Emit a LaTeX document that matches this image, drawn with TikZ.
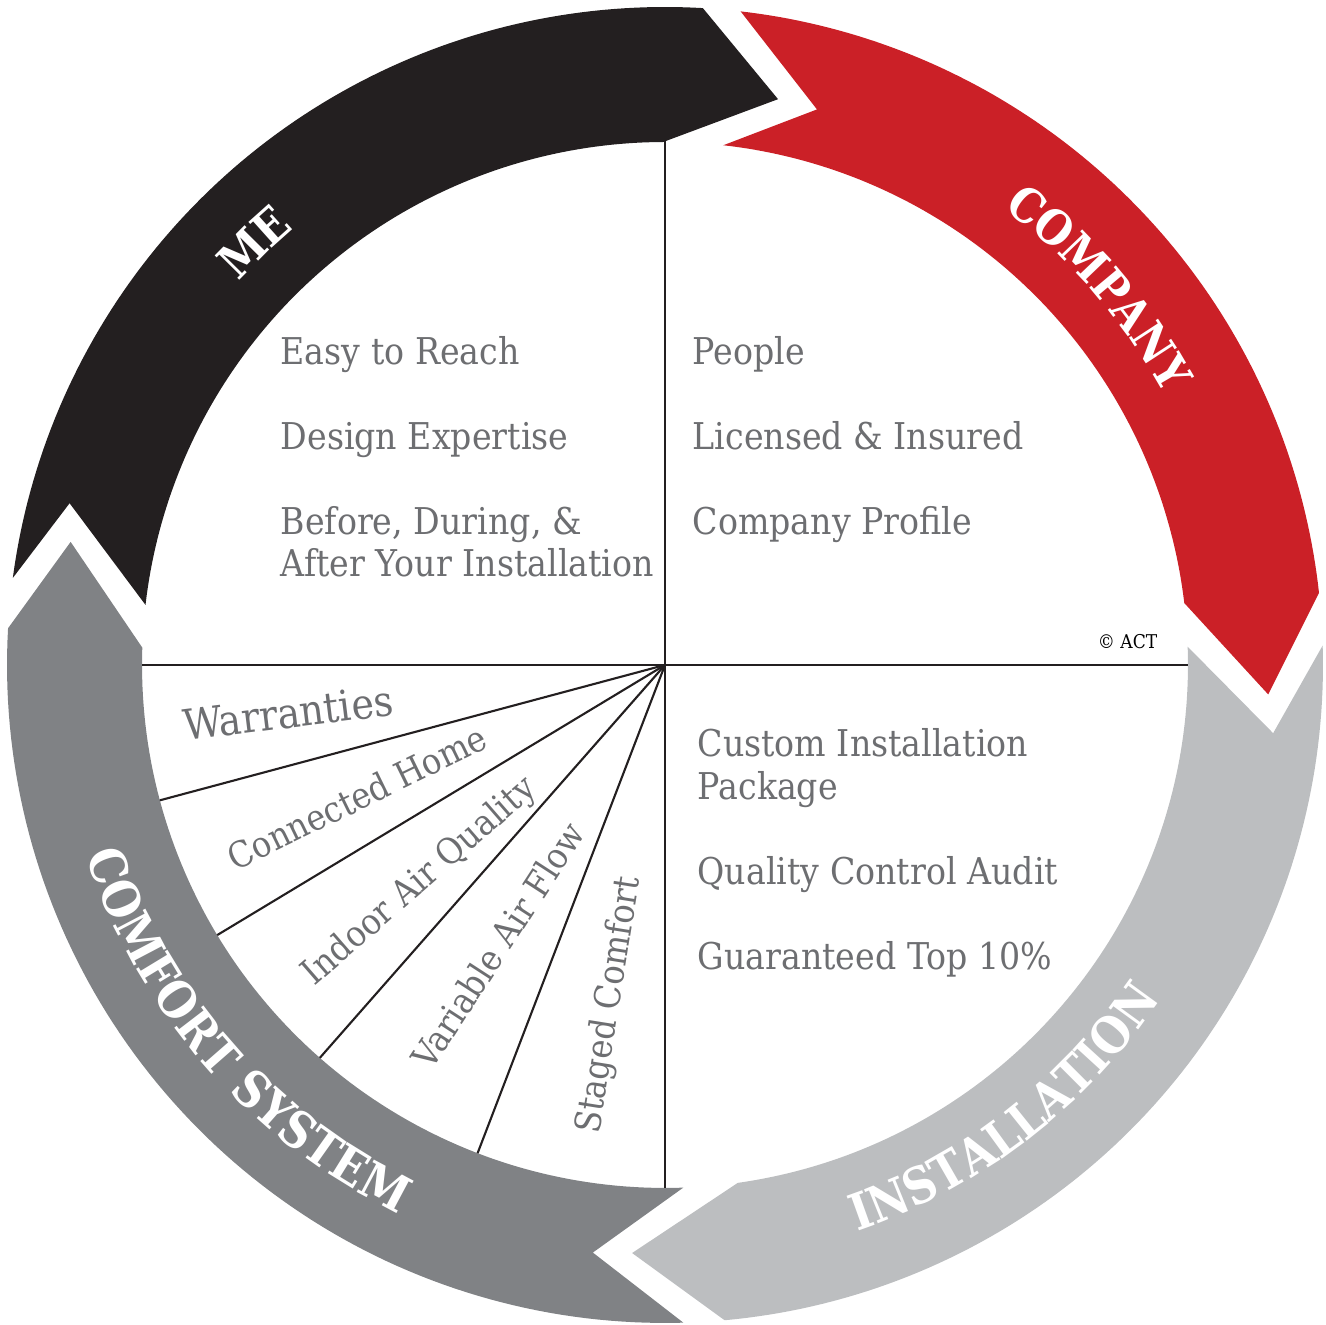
\documentclass[tikz,border=0pt]{standalone}
\usepackage{fontspec}
\usetikzlibrary{decorations.text}
\newfontfamily\slab{DejaVu Serif}[FakeStretch=0.9]
\newfontfamily\slabb{DejaVu Serif}[FakeStretch=0.88]
\definecolor{cblack}{HTML}{231F20}
\definecolor{cred}{HTML}{CB2027}
\definecolor{clight}{HTML}{BCBEC0}
\definecolor{cdark}{HTML}{808285}
\definecolor{ctext}{HTML}{6D6E71}
\newcommand\arrowfont{\slabb\bfseries\fontsize{13.5}{14}\selectfont}
\newcommand\arrowfontb{\slabb\bfseries\fontsize{14.3}{15}\selectfont}
\begin{document}
\begin{tikzpicture}[x=0.01cm,y=0.01cm,
  mtext/.style={anchor=base west,inner sep=0pt,font=\slab\fontsize{10.5}{12}\selectfont,text=ctext},
  ftext/.style={anchor=center,inner sep=0pt,font=\slab\fontsize{10.2}{12}\selectfont,text=ctext},
  divline/.style={draw=cblack,line width=0.6pt},
  arrowlabel/.style={decorate,decoration={text along path,text align=center,text color=white}}
]
\useasboundingbox (0,0) rectangle (1326,1325);
\begin{scope}[shift={(665,660)}]
  % arrows
  \fill[cblack] (172.4:658) -- (164.8:617) -- (173.4:523)
     -- plot[domain=173.4:90.2,samples=90] (\x:523)
     -- (78.7:577) -- (86.7:658)
     -- plot[domain=86.7:172.4,samples=90] (\x:658) -- cycle;
  \fill[cred] (83.4:658) -- (74.7:576) -- (83.6:523)
     -- plot[domain=83.6:6.8,samples=90] (\x:523)
     -- (-2.8:604) -- (6.3:658)
     -- plot[domain=6.3:83.4,samples=90] (\x:658) -- cycle;
  \fill[clight] (2:523) -- (-6.4:612) -- (1.7:658)
     -- plot[domain=1.7:-84.8,samples=90] (\x:658)
     -- (-93.2:589) -- (-82:523)
     -- plot[domain=-82:2,samples=90] (\x:523) -- cycle;
  \fill[cdark] (-88:523) -- (-97:592) -- (-88.4:658)
     -- plot[domain=-88.4:-183.2,samples=90] (\x:658)
     -- (-191.7:607) -- (-181.9:523)
     -- plot[domain=-181.9:-88,samples=90] (\x:523) -- cycle;
  % divider lines
  \coordinate (O) at (0,0);
  \coordinate (vt) at (90:525);
  \coordinate (vb) at (-90:523);
  \coordinate (hl) at (180:523);
  \coordinate (hr) at (0:523);
  \coordinate (f1) at (195.0:523);
  \coordinate (f2) at (211.1:523);
  \coordinate (f3) at (228.7:523);
  \coordinate (f4) at (249.0:523);
  \draw[divline] (vt) -- (vb);
  \draw[divline] (hl) -- (hr);
  \draw[divline] (O) -- (f1);
  \draw[divline] (O) -- (f2);
  \draw[divline] (O) -- (f3);
  \draw[divline] (O) -- (f4);
  % arrow labels
  \path[arrowlabel,decoration={text={|\arrowfont|ME}}] plot[domain=170:98.4,samples=60] (\x:573);
  \path[arrowlabel,decoration={text={|\arrowfont|COMPANY}}] plot[domain=80:2,samples=60] (\x:568);
  \path[arrowlabel,decoration={text={|\arrowfontb|INSTALLATION}}] plot[domain=-90:-15.2,samples=60] (\x:598);
  \path[arrowlabel,decoration={text={|\arrowfontb|COMFORT SYSTEM}}] plot[domain=185:257.3,samples=60] (\x:610);
\end{scope}
% quadrant texts
\node[mtext] (t1) at (280,960) {Easy to Reach};
\node[mtext] (t2) at (280,875) {Design Expertise};
\node[mtext] (t3) at (280,790) {Before, During, \&};
\node[mtext] (t4) at (280,748) {After Your Installation};
\node[mtext] (t5) at (692,960) {People};
\node[mtext] (t6) at (692,875) {Licensed \& Insured};
\node[mtext] (t7) at (692,790) {Company Profile};
\node[mtext] (t8) at (697,568) {Custom Installation};
\node[mtext] (t9) at (697,525) {Package};
\node[mtext] (t10) at (697,440) {Quality Control Audit};
\node[mtext] (t11) at (697,355) {Guaranteed Top 10\%};
\node[anchor=base east,inner sep=0pt,font=\slab\fontsize{5.4}{6}\selectfont,text=black] (copy) at (1158,676) {© ACT};
% fan texts
\node[ftext,font=\slab\fontsize{12}{14}\selectfont,rotate=7] (w1) at (288,612) {Warranties};
\node[ftext,rotate=26] (w2) at (357,528) {Connected Home};
\node[ftext,rotate=41] (w3) at (420,443) {Indoor Air Quality};
\node[ftext,rotate=57] (w4) at (498,380) {Variable Air Flow};
\node[ftext,rotate=81] (w5) at (610,320) {Staged Comfort};
\end{tikzpicture}
\end{document}
